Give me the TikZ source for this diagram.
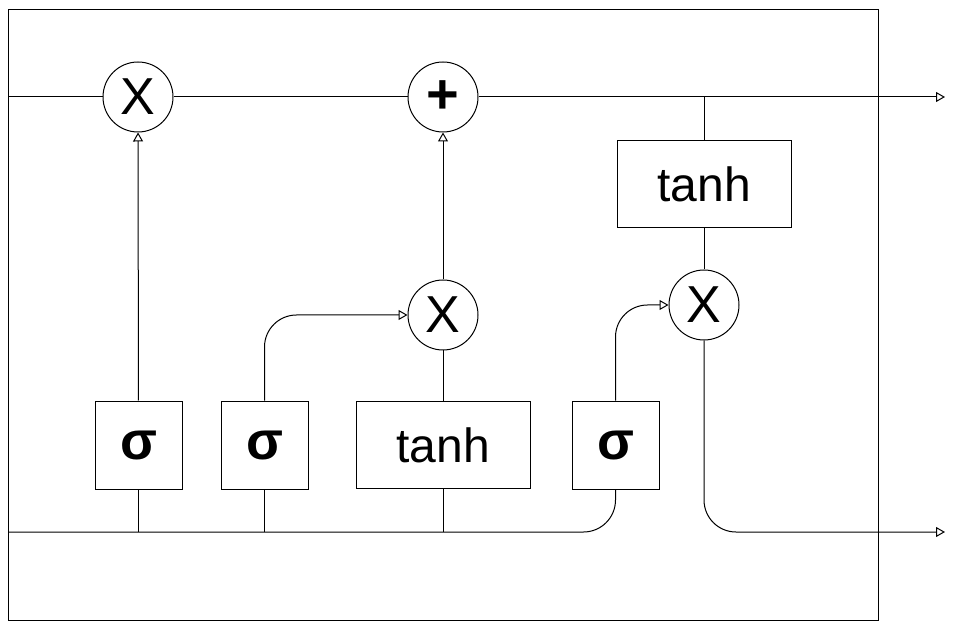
\documentclass[tikz,border=0pt]{standalone}
\usepackage{fontspec}
\setmainfont{Liberation Sans}
\usetikzlibrary{arrows.meta}

\begin{document}
\begin{tikzpicture}[x=0.5pt,y=-0.5pt,line width=0.5pt,
    op/.style={draw, circle, minimum size=35pt, inner sep=0pt, font=\fontsize{26}{26}\selectfont},
    gate/.style={draw, minimum width=43.5pt, minimum height=44pt, inner sep=0pt, font=\fontsize{27}{27}\selectfont\bfseries},
    act/.style={draw, minimum width=87pt, minimum height=43.5pt, inner sep=0pt, font=\fontsize{24}{24}\selectfont},
    flow/.style={-{Triangle[open,length=4.5pt,width=5pt]}}]
        \useasboundingbox (0,0) rectangle (963,630);
        % Cell box
        \draw (8,10) rectangle (878,620);

        % Nodes
        \node[op]   (f)   at (138,97)  {X};
        \node[op, font=\fontsize{28}{28}\selectfont\bfseries] (add) at (443,97) {+};
        \node[op]   (i)   at (443,315) {X};
        \node[op]   (o)   at (704,305) {X};
        \node[act]  (tc)  at (704,184) {tanh};

        \node[gate] (sf)  at (138.5,445) {σ};
        \node[gate] (si)  at (264.5,445) {σ};
        \node[act]  (tg)  at (443,445)   {tanh};
        \node[gate] (so)  at (615.5,445) {σ};

        \coordinate (cin)  at (8,97);
        \coordinate (cout) at (945,97);
        \coordinate (hin)  at (8,532);
        \coordinate (hout) at (945,532);

        % Cell state
        \draw[flow] (cin) -- (f) -- (add) -- (cout);
        \draw (tc.north) -- (tc.north |- cin);
        \draw (tc) -- (o);

        % Input
        \draw[rounded corners=16pt] (hin) -| (so.south);
        \draw (sf.south) -- (sf.south |- hin);
        \draw (si.south) -- (si.south |- hin);
        \draw (tg.south) -- (tg.south |- hin);

        % Gates
        \draw[flow] (sf) -- (f);
        \draw[flow, rounded corners=16pt] (si.north) |- (i.west);
        \draw (tg) -- (i);
        \draw[flow] (i) -- (add);
        \draw[flow, rounded corners=16pt] (so.north) |- (o.west);

        % Output
        \draw[flow, rounded corners=16pt] (o.south) |- (hout);
    \end{tikzpicture}
\end{document}
